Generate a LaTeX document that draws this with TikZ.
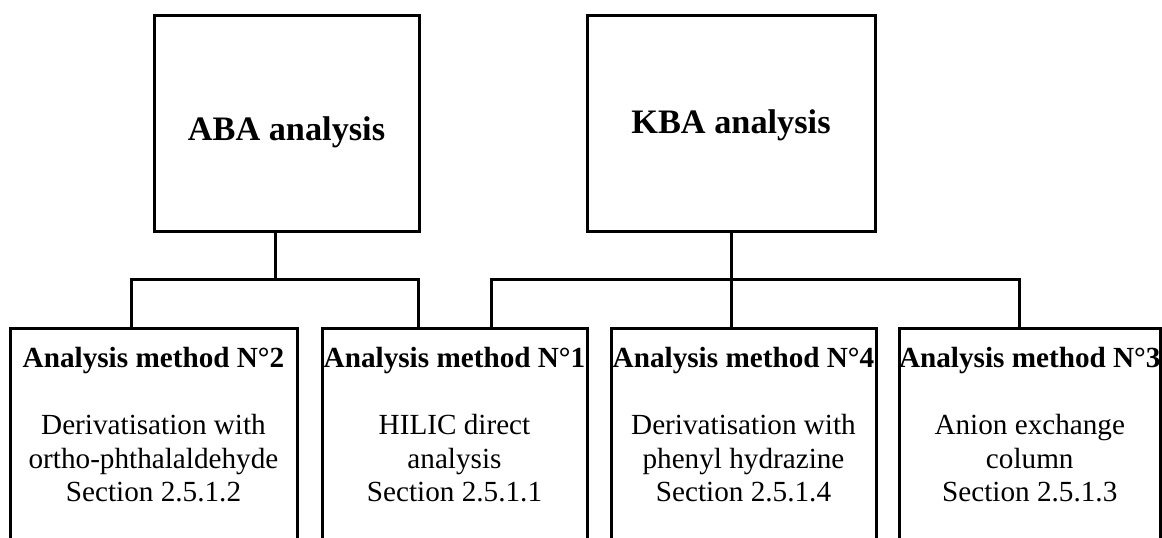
\documentclass[tikz,border=0pt]{standalone}
\usepackage{fontspec}
\setmainfont{Liberation Serif}
\usetikzlibrary{positioning}

\begin{document}
\begin{tikzpicture}[x=1pt,y=-1pt,line width=3pt,
                    top node/.style={draw,inner sep=0pt,minimum height=216pt,font=\fontsize{34.3}{40}\selectfont\bfseries},
                    method node/.style={draw,inner sep=0pt,align=center,text height=173.4pt,text depth=60pt,
                                        font=\fontsize{29.2}{33.6}\selectfont}]

  \useasboundingbox (0,0) rectangle (1162,538);
  \clip (0,0) rectangle (1162,538);

  \node[top node,minimum width=265pt,text height=34pt,text depth=0pt] (aba) at (286.5,123) {ABA analysis};
  \node[top node,minimum width=288pt,text height=20pt,text depth=0pt] (kba) [right=165pt of aba] {KBA analysis};

  \node[method node,minimum width=287pt,anchor=north] (m2) at (153.5,327)
       {\textbf{Analysis method N°2}\\[33.6pt] Derivatisation with\\ ortho-phthalaldehyde\\ Section 2.5.1.2};
  \node[method node,minimum width=265pt] (m1) [right=22pt of m2]
       {\textbf{Analysis method N°1}\\[33.6pt] HILIC direct\\ analysis\\ Section 2.5.1.1};
  \node[method node,minimum width=265pt] (m4) [right=21pt of m1]
       {\textbf{Analysis method N°4}\\[33.6pt] Derivatisation with\\ phenyl hydrazine\\ Section 2.5.1.4};
  \node[method node,minimum width=261pt] (m3) [right=20pt of m4]
       {\textbf{Analysis method N°3}\\[33.6pt] Anion exchange\\ column\\ Section 2.5.1.3};

  \coordinate (abaJ) at (275,279);
  \coordinate (abaL) at (131,279);
  \coordinate (abaR) at (418,279);
  \coordinate (kbaL) at (491,279);
  \coordinate (kbaR) at (1019,279);

  \draw (aba.south -| abaJ) -- (abaJ);
  \draw (m2.north -| abaL) -- (abaL) -- (abaR) -- (m1.north -| abaR);
  \draw (kba.south) -- (kba.south |- m4.north);
  \draw (m1.north -| kbaL) -- (kbaL) -- (kbaR) -- (m3.north -| kbaR);
\end{tikzpicture}
\end{document}
